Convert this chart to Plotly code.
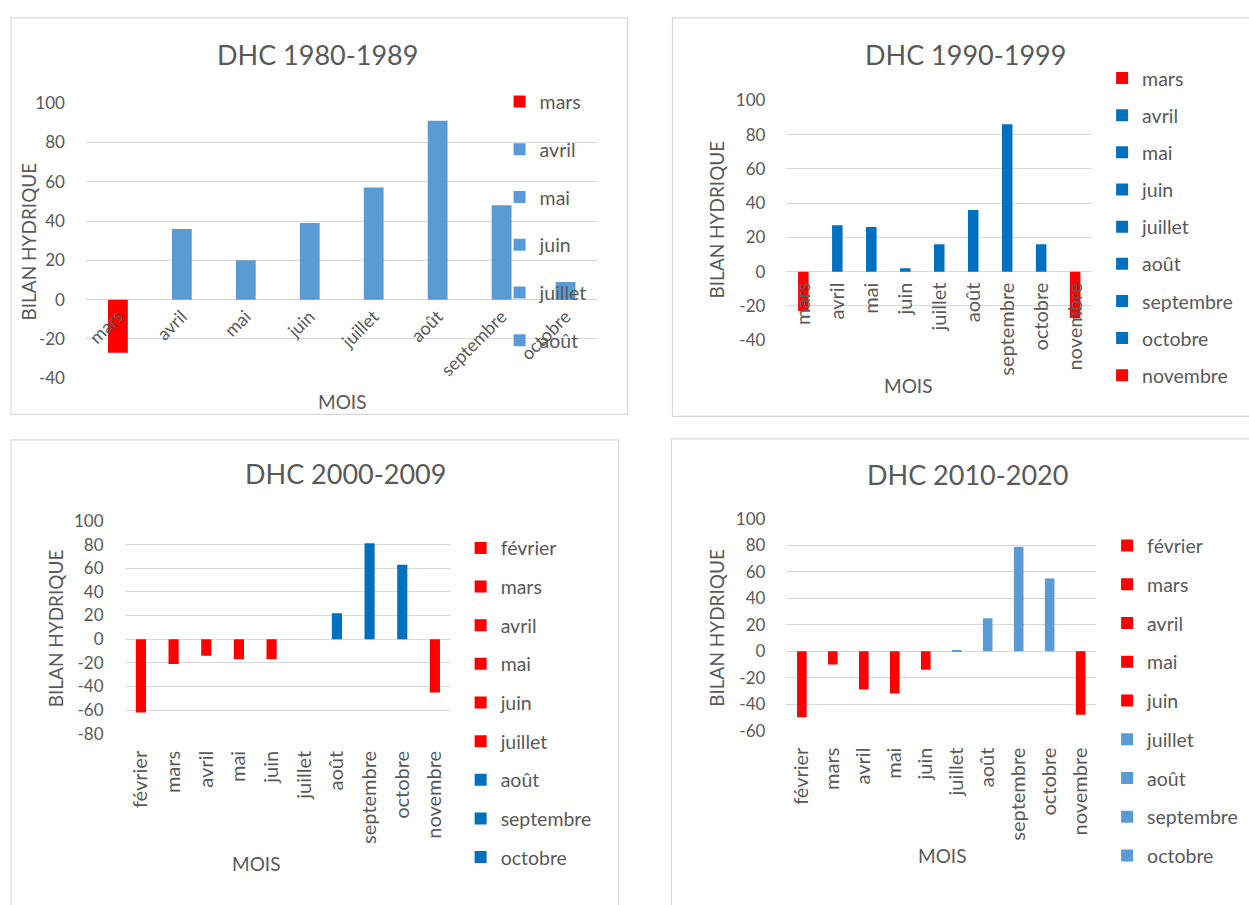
import plotly.graph_objects as go

# ---- data: monthly water balance (BILAN HYDRIQUE) per decade ----
months_1980 = ["mars", "avril", "mai", "juin", "juillet", "août", "septembre", "octobre"]
values_1980 = [-27, 36, 20, 39, 57, 91, 48, 9]

months_1990 = ["mars", "avril", "mai", "juin", "juillet", "août", "septembre", "octobre", "novembre"]
values_1990 = [-23, 27, 26, 2, 16, 36, 86, 16, -27]

months_2000 = ["février", "mars", "avril", "mai", "juin", "juillet", "août", "septembre", "octobre", "novembre"]
values_2000 = [-62, -21, -14, -17, -17, 0, 22, 81, 63, -45]

months_2010 = ["février", "mars", "avril", "mai", "juin", "juillet", "août", "septembre", "octobre", "novembre"]
values_2010 = [-50, -10, -29, -32, -14, 1, 25, 79, 55, -48]

titles = ["DHC 1980-1989", "DHC 1990-1999", "DHC 2000-2009", "DHC 2010-2020"]

# value-axis ticks for each chart
y_ticks_1980 = [-40, -20, 0, 20, 40, 60, 80, 100]
y_ticks_1990 = [-40, -20, 0, 20, 40, 60, 80, 100]
y_ticks_2000 = [-80, -60, -40, -20, 0, 20, 40, 60, 80, 100]
y_ticks_2010 = [-60, -40, -20, 0, 20, 40, 60, 80, 100]
y_tick_labels_1980 = ["-40", "-20", "0", "20", "40", "60", "80", "100"]
y_tick_labels_1990 = ["-40", "-20", "0", "20", "40", "60", "80", "100"]
y_tick_labels_2000 = ["-80", "-60", "-40", "-20", "0", "20", "40", "60", "80", "100"]
y_tick_labels_2010 = ["-60", "-40", "-20", "0", "20", "40", "60", "80", "100"]

RED = "#FF0000"
LIGHT_BLUE = "#5B9BD5"
DARK_BLUE = "#0070C0"
GRID = "#D9D9D9"
TEXT = "#595959"
FONT = "Lato"

W, H = 1249, 905


def px(x):
    return x / W


def py(y):
    return 1 - y / H


# per-panel colours (red for deficit months) and hidden legend entries
panels = [
    dict(months=months_1980, values=values_1980, pos_color=LIGHT_BLUE,
         ticks=y_ticks_1980, labels=y_tick_labels_1980,
         legend_hidden={"septembre", "octobre"}),
    dict(months=months_1990, values=values_1990, pos_color=DARK_BLUE,
         ticks=y_ticks_1990, labels=y_tick_labels_1990,
         legend_hidden=set()),
    dict(months=months_2000, values=values_2000, pos_color=DARK_BLUE,
         ticks=y_ticks_2000, labels=y_tick_labels_2000,
         legend_hidden={"novembre"}),
    dict(months=months_2010, values=values_2010, pos_color=LIGHT_BLUE,
         ticks=y_ticks_2010, labels=y_tick_labels_2010,
         legend_hidden={"novembre"}),
]

# plot-area geometry in page pixels: x0, x1, y_top, y_bottom
geom = [
    (85, 597, 94.3, 376),
    (786, 1092, 91.4, 337),
    (123.7, 450.6, 522, 740),
    (786, 1096, 520, 736.7),
]

fig = go.Figure()

for i, p in enumerate(panels):
    n = "" if i == 0 else str(i + 1)
    leg = "legend" if i == 0 else f"legend{i + 1}"
    for m, v in zip(p["months"], p["values"]):
        color = RED if (v < 0 or (i == 2 and m == "juillet")) else p["pos_color"]
        fig.add_trace(go.Bar(
            x=[m], y=[v], name=m, width=0.31,
            marker=dict(color=color, line=dict(width=0)),
            xaxis="x" + n, yaxis="y" + n,
            legend=leg, legendgroup=f"p{i}_{m}",
            showlegend=m not in p["legend_hidden"],
            hoverinfo="x+y",
        ))

layout = dict(
    width=W, height=H,
    margin=dict(l=0, r=0, t=0, b=0),
    paper_bgcolor="white", plot_bgcolor="white",
    barmode="overlay",
    font=dict(family=FONT, color=TEXT),
)

tick_angles = [-45, -90, -90, -90]
x_font = [18, 20, 20, 20]
x_standoff = [2, 6, 12, 12]
zero_anchor = [True, True, False, False]

for i, p in enumerate(panels):
    n = "" if i == 0 else str(i + 1)
    x0, x1, yt, yb = geom[i]
    lo, hi = p["ticks"][0], p["ticks"][-1]
    xa = dict(
        domain=[px(x0), px(x1)],
        type="category", categoryorder="array", categoryarray=p["months"],
        range=[-0.5, len(p["months"]) - 0.5],
        showgrid=False, showline=False, zeroline=False, ticks="",
        tickangle=tick_angles[i],
        tickfont=dict(family=FONT, size=x_font[i], color=TEXT),
        ticklabelstandoff=x_standoff[i],
    )
    if zero_anchor[i]:
        zero_px = yb - (0 - lo) / (hi - lo) * (yb - yt)
        xa.update(anchor="free", position=py(zero_px))
    else:
        xa.update(anchor="y" + n)
    ya = dict(
        domain=[py(yb), py(yt)],
        range=[lo, hi], tickmode="array", tickvals=p["ticks"], ticktext=p["labels"],
        showgrid=True, gridcolor=GRID, gridwidth=1,
        zeroline=False, showline=False, ticks="",
        tickfont=dict(family=FONT, size=17, color=TEXT),
        ticklabelstandoff=20,
        anchor="x" + n,
    )
    layout["xaxis" + n] = xa
    layout["yaxis" + n] = ya

# legends: (left x, top y, gap between items)
legend_pos = [
    (499, 73, 47.4),
    (1102, 49, 36.8),
    (460, 530, 38.3),
    (1107, 527.5, 38.4),
]
for i, (lx, ly, gap) in enumerate(legend_pos):
    key = "legend" if i == 0 else f"legend{i + 1}"
    layout[key] = dict(
        x=px(lx), y=py(ly), xanchor="left", yanchor="top",
        bgcolor="rgba(0,0,0,0)", borderwidth=0,
        font=dict(family=FONT, size=19.5, color=TEXT),
        traceorder="grouped", tracegroupgap=gap - 28,
        itemclick=False, itemdoubleclick=False,
    )

fig.update_layout(**layout)

# chart borders
borders = [
    (10, 627, 7, 413),
    (672, 1260, 7, 415),
    (10, 618, 439, 920),
    (671, 1260, 438, 920),
]
for bx0, bx1, by0, by1 in borders:
    fig.add_shape(type="rect", xref="paper", yref="paper",
                  x0=px(bx0), x1=px(bx1), y0=py(by1), y1=py(by0),
                  line=dict(color=GRID, width=1.2), fillcolor="rgba(0,0,0,0)",
                  layer="below")

# chart titles and axis titles
title_pos = [(317, 45), (965, 45), (345, 473), (967, 475)]
ytitle_pos = [(28, 236), (716, 213), (54, 632), (716, 631)]
xtitle_pos = [(341, 400), (908, 383), (255, 873), (942, 865)]

for i in range(4):
    tx, ty = title_pos[i]
    fig.add_annotation(text=titles[i], x=px(tx), y=py(ty), xref="paper", yref="paper",
                       showarrow=False, xanchor="center", yanchor="middle",
                       font=dict(family=FONT, size=27, color=TEXT))
    yx, yy = ytitle_pos[i]
    fig.add_annotation(text="BILAN HYDRIQUE", x=px(yx), y=py(yy), xref="paper", yref="paper",
                       showarrow=False, textangle=-90, xanchor="center", yanchor="middle",
                       font=dict(family=FONT, size=19, color=TEXT))
    xx, xy = xtitle_pos[i]
    fig.add_annotation(text="MOIS", x=px(xx), y=py(xy), xref="paper", yref="paper",
                       showarrow=False, xanchor="center", yanchor="middle",
                       font=dict(family=FONT, size=19, color=TEXT))

fig.write_html("out.html")
